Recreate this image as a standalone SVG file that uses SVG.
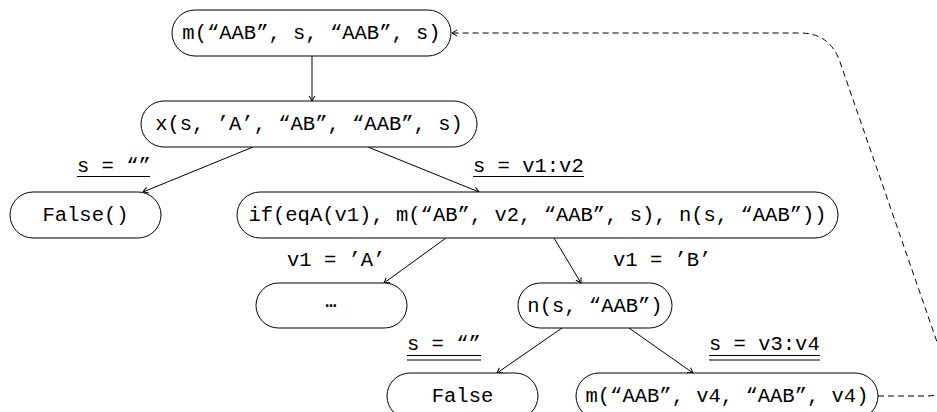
<svg xmlns="http://www.w3.org/2000/svg" width="937" height="412" viewBox="0 0 937 412">
<style>
.box{fill:#fff;stroke:#000;stroke-width:1}
.t{font-family:"Liberation Mono","DejaVu Sans Mono",monospace;font-size:20.5px;fill:#000}
.c{text-anchor:middle}
.e{stroke:#000;stroke-width:1;fill:none}
.u{stroke:#000;stroke-width:1.2}
.d{stroke:#000;stroke-width:1;fill:none;stroke-dasharray:6 4}
</style>
<defs>
<marker id="ah" markerUnits="userSpaceOnUse" markerWidth="12" markerHeight="12" viewBox="-8 -6 10 12" refX="0" refY="0" orient="auto">
<path d="M-5,-3 L0,0 L-5,3" fill="none" stroke="#000" stroke-width="1"/>
</marker>
</defs>
<g id="connectors">
<line class="e" x1="312" y1="56" x2="312" y2="101" marker-end="url(#ah)"/>
<line class="e" x1="253" y1="147" x2="143" y2="192" marker-end="url(#ah)"/>
<line class="e" x1="368" y1="147" x2="479" y2="192" marker-end="url(#ah)"/>
<line class="e" x1="446" y1="238" x2="384" y2="283" marker-end="url(#ah)"/>
<line class="e" x1="554" y1="238" x2="581" y2="283" marker-end="url(#ah)"/>
<line class="e" x1="562" y1="328" x2="497" y2="373" marker-end="url(#ah)"/>
<line class="e" x1="629" y1="328" x2="693" y2="373" marker-end="url(#ah)"/>
<path class="d" d="M878,396 L926,396 Q956,396 946,368 L840,62 Q830,33 800,33 L452,33" marker-end="url(#ah)"/>
</g>
<g id="labels">
<text class="t" x="77" y="172">s = “”</text>
<line class="u" x1="77" y1="176.5" x2="150" y2="176.5"/>
<text class="t" x="473" y="172">s = v1:v2</text>
<line class="u" x1="473" y1="176.5" x2="584" y2="176.5"/>
<text class="t" x="287" y="266">v1 = ’A’</text>
<text class="t" x="613" y="266">v1 = ’B’</text>
<text class="t" x="407" y="350">s = “”</text>
<line class="u" x1="407" y1="355.5" x2="481" y2="355.5"/>
<line class="u" x1="407" y1="360" x2="481" y2="360"/>
<text class="t" x="709" y="350">s = v3:v4</text>
<line class="u" x1="709" y1="355.5" x2="820" y2="355.5"/>
<line class="u" x1="709" y1="360" x2="820" y2="360"/>
</g>
<g id="n1"><rect class="box" x="172" y="10" width="279" height="46" rx="23"/><text class="t c" x="311.5" y="39">m(“AAB”, s, “AAB”, s)</text></g>
<g id="n2"><rect class="box" x="141" y="101" width="336" height="46" rx="23"/><text class="t c" x="309" y="130">x(s, ’A’, “AB”, “AAB”, s)</text></g>
<g id="n3"><rect class="box" x="10" y="192" width="151" height="46" rx="23"/><text class="t c" x="85.5" y="221">False()</text></g>
<g id="n4"><rect class="box" x="237" y="192" width="601" height="46" rx="23"/><text class="t c" x="537.5" y="221">if(eqA(v1), m(“AB”, v2, “AAB”, s), n(s, “AAB”))</text></g>
<g id="n5"><rect class="box" x="256" y="283" width="151" height="45" rx="22.5"/><text class="t c" x="331" y="307" style="font-size:18px;font-weight:bold">…</text></g>
<g id="n6"><rect class="box" x="518" y="283" width="154" height="45" rx="22.5"/><text class="t c" x="595" y="312">n(s, “AAB”)</text></g>
<g id="n7"><rect class="box" x="387" y="373" width="151" height="46" rx="23"/><text class="t c" x="462.5" y="402">False</text></g>
<g id="n8"><rect class="box" x="576" y="373" width="302" height="46" rx="23"/><text class="t c" x="727" y="402">m(“AAB”, v4, “AAB”, v4)</text></g>
</svg>
